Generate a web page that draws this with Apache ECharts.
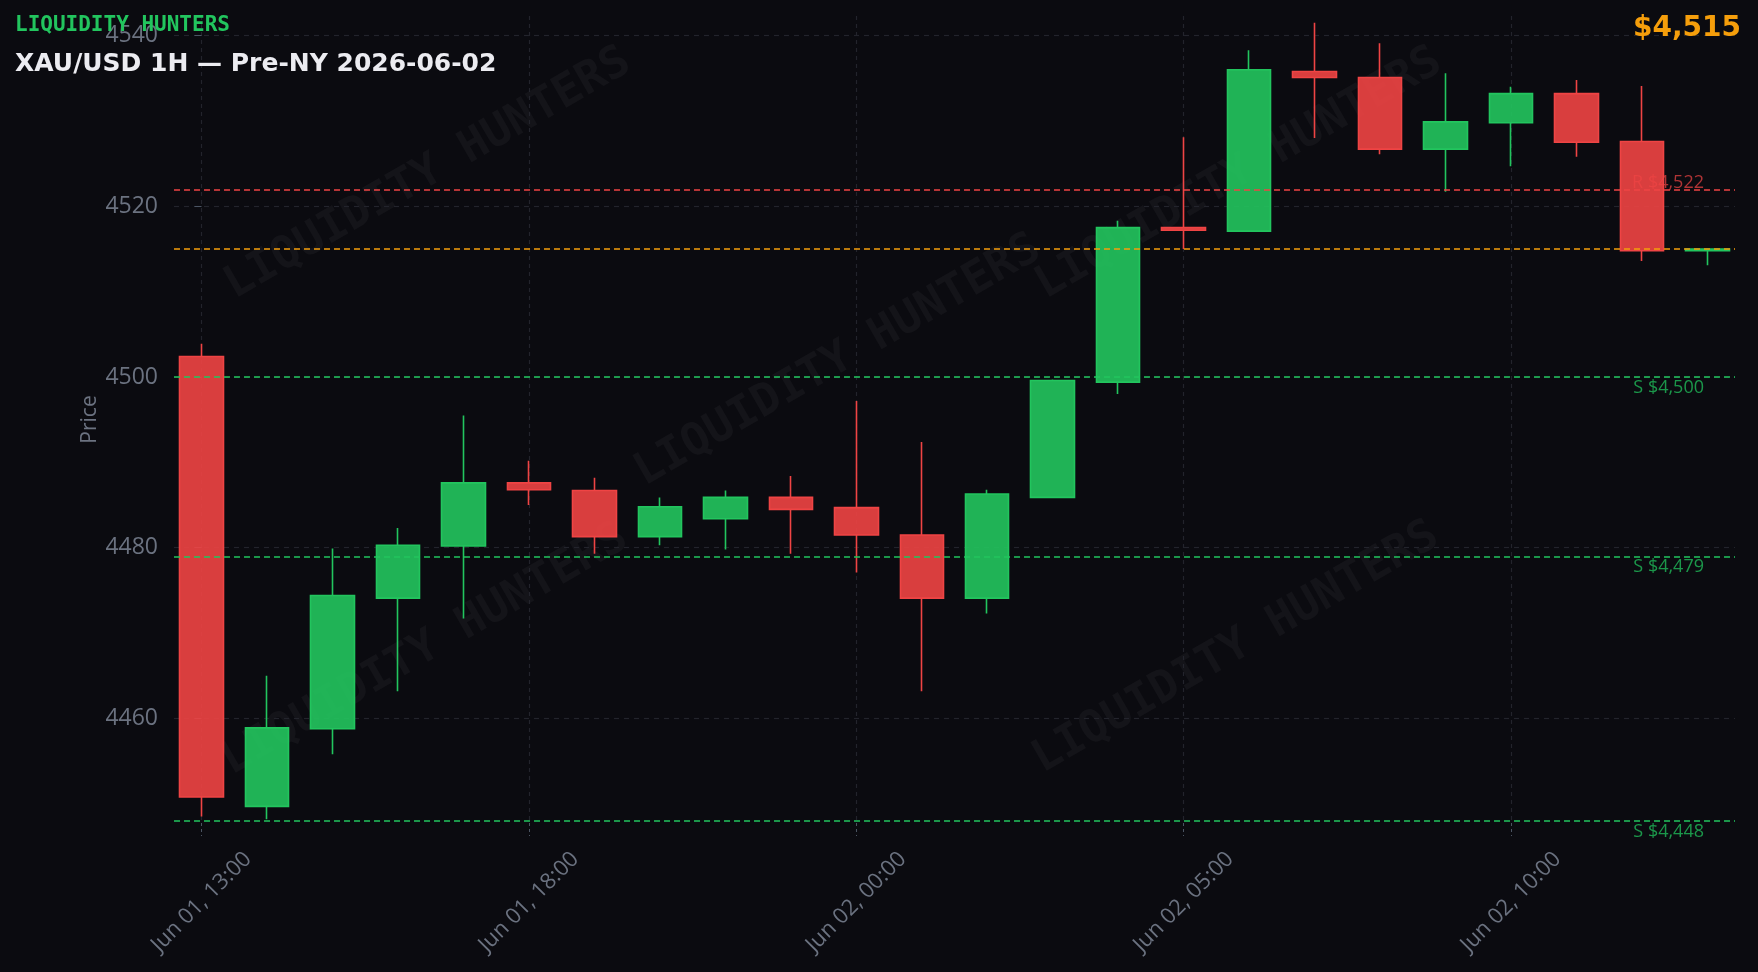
<!DOCTYPE html>
<html>
<head>
<meta charset="utf-8">
<script src="https://cdn.jsdelivr.net/npm/echarts@6/dist/echarts.min.js"></script>
<style>
  html, body { margin: 0; padding: 0; background: #0b0b10; }
  #chart { width: 1758px; height: 972px; }
</style>
</head>
<body>
<div id="chart"></div>
<script>
// ---- data ----
const times = [
  'Jun 01, 13:00', 'Jun 01, 14:00', 'Jun 01, 15:00', 'Jun 01, 16:00', 'Jun 01, 17:00',
  'Jun 01, 18:00', 'Jun 01, 19:00', 'Jun 01, 20:00', 'Jun 01, 22:00', 'Jun 01, 23:00',
  'Jun 02, 00:00', 'Jun 02, 01:00', 'Jun 02, 02:00', 'Jun 02, 03:00', 'Jun 02, 04:00',
  'Jun 02, 05:00', 'Jun 02, 06:00', 'Jun 02, 07:00', 'Jun 02, 08:00', 'Jun 02, 09:00',
  'Jun 02, 10:00', 'Jun 02, 11:00', 'Jun 02, 12:00', 'Jun 02, 13:00'
];
const opens  = [4502.4, 4449.7, 4458.8, 4474.1, 4480.2, 4487.6, 4486.7, 4481.3, 4483.4, 4485.9,
                4484.7, 4481.5, 4474.1, 4485.9, 4499.4, 4517.5, 4517.1, 4535.8, 4535.1, 4526.7,
                4529.8, 4533.2, 4527.6, 4514.8];
const closes = [4450.8, 4458.9, 4474.4, 4480.3, 4487.6, 4486.8, 4481.3, 4484.8, 4485.9, 4484.5,
                4481.5, 4474.1, 4486.3, 4499.6, 4517.5, 4517.2, 4536.0, 4535.1, 4526.7, 4529.9,
                4533.2, 4527.5, 4514.8, 4515.0];
const lows   = [4448.5, 4448.2, 4455.8, 4463.2, 4471.7, 4485.0, 4479.3, 4480.3, 4479.8, 4479.3,
                4477.1, 4463.2, 4472.3, 4485.8, 4498.0, 4515.0, 4517.1, 4528.0, 4526.1, 4521.7,
                4524.7, 4525.8, 4513.6, 4513.1];
const highs  = [4503.9, 4465.0, 4479.9, 4482.3, 4495.5, 4490.2, 4488.2, 4485.9, 4486.7, 4488.4,
                4497.2, 4492.4, 4486.8, 4499.7, 4518.3, 4528.1, 4538.3, 4541.5, 4539.1, 4535.6,
                4534.0, 4534.8, 4534.1, 4515.1];
const yTicks = [4460, 4480, 4500, 4520, 4540];
const xTickIdx = [0, 5, 10, 15, 20];
const levelValues = [4522, 4500, 4479, 4448];
const levelKinds  = ['R', 'S', 'S', 'S'];
const lastPrice = 4515;
const brand = 'LIQUIDITY HUNTERS';
const title = 'XAU/USD 1H — Pre-NY 2026-06-02';

// ---- build ----
const candleData = times.map((t, i) => [i, opens[i], closes[i], lows[i], highs[i]]);
const fmt = v => '$' + v.toLocaleString('en-US');

const GREEN = '#22c55e', RED = '#ef4444', ORANGE = '#f59e0b', GREY = '#6b7280';
const gridColor = '#23242c';

const markLines = levelValues.map((v, i) => {
  const isR = levelKinds[i] === 'R';
  return {
    yAxis: v,
    lineStyle: { color: isR ? RED : GREEN, type: [6, 4], width: 1.5 },
    label: {
      show: true,
      position: isR ? 'insideEndTop' : 'insideEndBottom',
      distance: isR ? [31, -2.5] : [31, 2],
      formatter: levelKinds[i] + ' ' + fmt(v),
      color: isR ? 'rgba(239,68,68,0.72)' : 'rgba(34,197,94,0.75)',
      fontSize: 18,
      fontFamily: 'Open Sans'
    }
  };
});
markLines.push({
  yAxis: lastPrice,
  lineStyle: { color: ORANGE, type: [6, 4], width: 1.5 },
  label: { show: false }
});

const wmPos = [[428, 174], [1239, 174], [838, 361], [425, 650], [1236, 648]];
const watermarks = wmPos.map(p => ({
  type: 'text', x: p[0], y: p[1], rotation: Math.PI / 6, z: -10, silent: true,
  style: {
    text: brand, align: 'center', verticalAlign: 'middle',
    font: 'bold 45px "DejaVu Sans Mono"', fill: 'rgba(255,255,255,0.04)'
  }
}));

const chart = echarts.init(document.getElementById('chart'));
chart.setOption({
  backgroundColor: '#0b0b10',
  animation: false,
  grid: { left: 174, right: 23, top: 16, bottom: 149 },
  xAxis: {
    type: 'value',
    min: -0.42, max: 23.42,
    axisLine: { show: false },
    axisTick: { show: true, customValues: xTickIdx, length: 13,
      lineStyle: { color: '#4b5563', type: [3, 3] } },
    axisLabel: {
      customValues: xTickIdx,
      formatter: v => times[Math.round(v)] || '',
      rotate: 45, align: 'center', verticalAlign: 'middle', margin: 79,
      color: GREY, fontSize: 22, fontFamily: 'Open Sans'
    },
    splitLine: { show: true, lineStyle: { color: gridColor, type: [4, 4], width: 1.2 } }
  },
  yAxis: {
    type: 'value',
    min: 4447.75, max: 4542.3,
    name: 'Price', nameLocation: 'middle', nameGap: 73, nameMoveOverlap: false,
    nameTextStyle: { color: GREY, fontSize: 21, fontFamily: 'Open Sans' },
    axisLine: { show: false },
    axisTick: { show: true, customValues: yTicks, length: 7, lineStyle: { color: '#4b5563' } },
    axisLabel: { customValues: yTicks, formatter: v => String(v), color: GREY,
                 fontSize: 23, fontFamily: 'Open Sans', margin: 16 },
    splitLine: { show: true, lineStyle: { color: gridColor, type: [5, 5], width: 1.2 } }
  },
  graphic: watermarks.concat([
    { type: 'text', x: 15, y: 25.5, z: 100,
      style: { text: brand, font: 'bold 21px "DejaVu Sans Mono"', fill: GREEN,
               align: 'left', verticalAlign: 'middle' } },
    { type: 'text', x: 15, y: 64, z: 100,
      style: { text: title, font: 'bold 25px "DejaVu Sans"', fill: '#ececf1',
               align: 'left', verticalAlign: 'middle' } },
    { type: 'text', x: 1741, y: 28.5, z: 100,
      style: { text: fmt(lastPrice), font: 'bold 28px "DejaVu Sans"', fill: ORANGE,
               align: 'right', verticalAlign: 'middle' } }
  ]),
  series: [{
    type: 'candlestick',
    data: candleData,
    barWidth: 44,
    itemStyle: {
      color: 'rgba(34,197,94,0.9)', color0: 'rgba(239,68,68,0.9)',
      borderColor: GREEN, borderColor0: RED, borderWidth: 1.6
    },
    markLine: { symbol: ['none', 'none'], silent: true, animation: false, data: markLines }
  }]
});
</script>
</body>
</html>
